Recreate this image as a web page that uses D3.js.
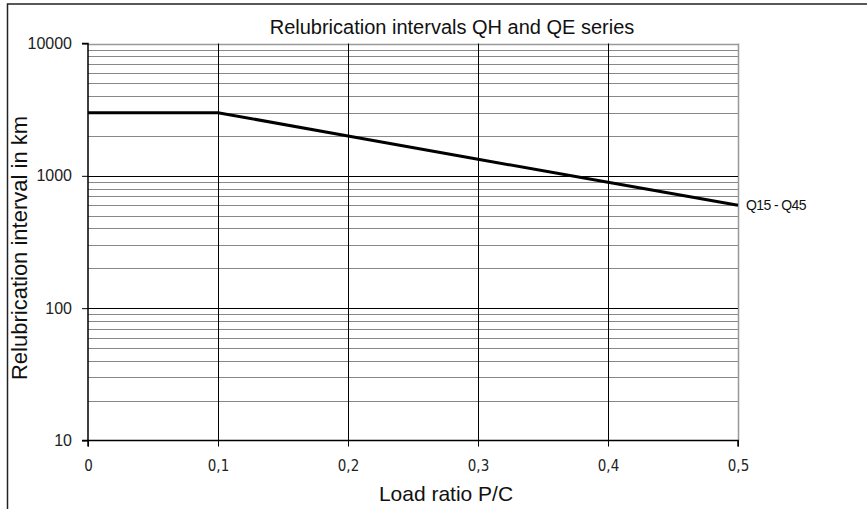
<!DOCTYPE html>
<html><head><meta charset="utf-8">
<script src="https://cdn.jsdelivr.net/npm/d3@7"></script>
<style>body{margin:0;background:#fff}svg{display:block}</style>
</head><body>
<svg id="c" width="867" height="509"></svg>
<script>
const loadRatio = [0, 0.1, 0.2, 0.3, 0.4, 0.5];
const intervalKm = [3000, 3000, 2000, 1333, 895, 600];
const seriesLabel = "Q15 - Q45";
const xTicks = [0, 0.1, 0.2, 0.3, 0.4, 0.5];
const yTicks = [10, 100, 1000, 10000];
const title = "Relubrication intervals QH and QE series";
const xTitle = "Load ratio P/C";
const yTitle = "Relubrication interval in km";

const svg = d3.select("#c");
const L = 88, R = 738, T = 43.5, B = 440.5;
const x = d3.scaleLinear().domain([0, 0.5]).range([L, R]);
const y = d3.scaleLog().domain([10, 10000]).range([B, T]);
const sans = "'Liberation Sans', Arial, sans-serif";
const cond = "'DejaVu Sans Condensed', 'DejaVu Sans', sans-serif";

// outer border
svg.append("rect").attr("x", 7.5).attr("y", 4).attr("width", 900).attr("height", 600)
  .attr("fill", "none").attr("stroke", "#222").attr("stroke-width", 1.5);

// minor gridlines
const minor = [];
for (let d = 10; d < 10000; d *= 10) for (let k = 2; k <= 9; k++) minor.push(d * k);
svg.append("g").selectAll("line").data(minor).join("line")
  .attr("x1", L).attr("x2", R)
  .attr("y1", d => Math.round(y(d)) + 0.5).attr("y2", d => Math.round(y(d)) + 0.5)
  .attr("stroke", "#888").attr("stroke-width", 1);
// top & right frame (grey)
svg.append("line").attr("x1", L).attr("x2", R).attr("y1", Math.round(y(10000)) + 0.5).attr("y2", Math.round(y(10000)) + 0.5)
  .attr("stroke", "#999").attr("stroke-width", 1.5);
svg.append("line").attr("x1", R + 0.5).attr("x2", R + 0.5).attr("y1", T).attr("y2", B)
  .attr("stroke", "#999").attr("stroke-width", 1.5);
// major gridlines
svg.append("g").selectAll("line").data([100, 1000]).join("line")
  .attr("x1", L).attr("x2", R)
  .attr("y1", d => Math.round(y(d)) + 0.5).attr("y2", d => Math.round(y(d)) + 0.5)
  .attr("stroke", "#000").attr("stroke-width", 1);
// vertical gridlines
svg.append("g").selectAll("line").data(xTicks.slice(1, -1)).join("line")
  .attr("x1", d => Math.round(x(d)) + 0.5).attr("x2", d => Math.round(x(d)) + 0.5)
  .attr("y1", T).attr("y2", B)
  .attr("stroke", "#000").attr("stroke-width", 1);

// axes
const xAxis = d3.axisBottom(x).tickValues(xTicks).tickSize(6).tickPadding(14)
  .tickFormat(d => d === 0 ? "0" : d3.format(".1f")(d).replace(".", ","));
const gx = svg.append("g").attr("transform", `translate(0,${B})`).call(xAxis);
gx.attr("font-size", null).attr("font-family", null);
gx.select(".domain").attr("d", `M${L},6V0H${R}V6`).attr("stroke", "#000").attr("stroke-width", 1.5);
gx.selectAll(".tick line").attr("stroke", "#000");
gx.selectAll("text").style("font-family", cond).style("font-size", "15px").attr("fill", "#222");

const yAxis = d3.axisLeft(y).tickValues(yTicks).tickSize(6).tickPadding(10)
  .tickFormat(d3.format("d"));
const gy = svg.append("g").attr("transform", `translate(${L},0)`).call(yAxis);
gy.attr("font-size", null).attr("font-family", null);
gy.select(".domain").attr("d", `M-6,${B}H0V${T}H-6`).attr("stroke", "#000").attr("stroke-width", 1.5);
gy.selectAll(".tick line").attr("stroke", "#000");
gy.selectAll("text").style("font-family", sans).style("font-size", "16px").attr("fill", "#222");

// series line
const data = loadRatio.map((v, i) => [v, intervalKm[i]]);
svg.append("path").datum(data)
  .attr("d", d3.line().x(d => x(d[0])).y(d => y(d[1])))
  .attr("fill", "none").attr("stroke", "#000").attr("stroke-width", 3);

svg.append("text").attr("x", x(0.5) + 8).attr("y", y(600) + 5)
  .style("font-family", sans).style("font-size", "14px")
  .attr("letter-spacing", -0.6).attr("fill", "#111").text(seriesLabel);

// titles
svg.append("text").attr("x", 452).attr("y", 34).attr("text-anchor", "middle")
  .style("font-family", sans).style("font-size", "20px").attr("fill", "#111").text(title);
svg.append("text").attr("x", 446).attr("y", 501).attr("text-anchor", "middle")
  .style("font-family", sans).style("font-size", "21px").attr("fill", "#111").text(xTitle);
svg.append("text").attr("transform", `translate(27,248) rotate(-90)`).attr("text-anchor", "middle")
  .style("font-family", sans).style("font-size", "22px").attr("fill", "#111").text(yTitle);
</script>
</body></html>
